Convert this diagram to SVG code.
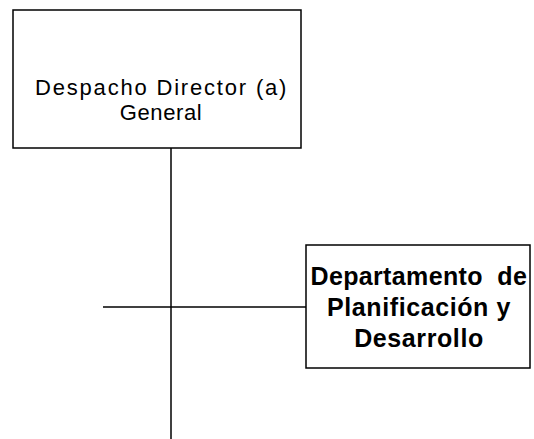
<svg xmlns="http://www.w3.org/2000/svg" width="534" height="439" viewBox="0 0 534 439">
<style>
.box{fill:#fff;stroke:#000;stroke-width:1.5}
.ln{stroke:#000;stroke-width:1.5;fill:none}
.t1{font-family:"Liberation Sans",Arial,sans-serif;font-size:22px;letter-spacing:0.6px;fill:#000;text-anchor:middle}
.t2{font-family:"Liberation Sans",Arial,sans-serif;font-size:25px;font-weight:bold;letter-spacing:0.6px;fill:#000;text-anchor:middle}
</style>
<rect width="534" height="439" fill="#fff"/>
<g id="connectors">
<line class="ln" x1="171" y1="148" x2="171" y2="439"/>
<line class="ln" x1="103" y1="307" x2="306" y2="307"/>
</g>
<g id="n1">
<rect class="box" x="13" y="10" width="288" height="138"/>
<text class="t1" x="161" y="95" textLength="252" lengthAdjust="spacing">Despacho Director (a)</text>
<text class="t1" x="161" y="120">General</text>
</g>
<g id="n2">
<rect class="box" x="306" y="245" width="224" height="123"/>
<text class="t2" x="419" y="285" textLength="217" lengthAdjust="spacing" xml:space="preserve">Departamento  de</text>
<text class="t2" x="419" y="316">Planificación y</text>
<text class="t2" x="419" y="347">Desarrollo</text>
</g>
</svg>
